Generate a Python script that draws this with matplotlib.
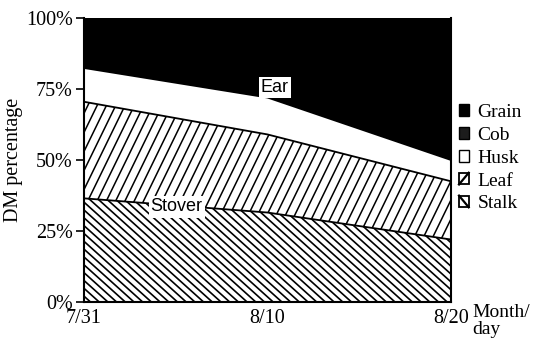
import numpy as np
import matplotlib
matplotlib.use("Agg")
import matplotlib.pyplot as plt
from matplotlib.patches import Patch, Rectangle
from matplotlib.lines import Line2D
from matplotlib.collections import LineCollection
from matplotlib.legend_handler import HandlerPatch

# days after 7/31
days = [0, 10, 20]
tick_labels = ["7/31", "8/10", "8/20"]

# dry matter share of each part (%), bottom to top
stalk = [36.5, 31.5, 22.0]
leaf = [34.0, 27.5, 20.5]
husk = [11.9, 13.0, 7.5]
cob = [8.0, 7.0, 6.0]
grain = [9.6, 21.0, 44.0]

parts = ["Stalk", "Leaf", "Husk", "Cob", "Grain"]

plt.rcParams['font.family'] = ['Liberation Serif', 'DejaVu Serif']

fig = plt.figure(figsize=(5.37, 3.42), dpi=100)
ax = fig.add_axes([84 / 537, 40 / 342, 367 / 537, 284 / 342])

W, H = 367, 284  # axes size in pixels, used for the hatch lines


def hatch_lines(poly, angle, step, lw=1.1):
    # angled hatch clipped to a filled region
    t = np.tan(np.radians(angle))
    run = H / t
    starts = np.arange(-abs(run) - step, W + abs(run) + step, step)
    segs = [[(x0 / W, 0), ((x0 + run) / W, 1)] for x0 in starts]
    lc = LineCollection(segs, colors="black", linewidths=lw, transform=ax.transAxes)
    path = poly.get_paths()[0]
    lc.set_clip_path(path, ax.transData)
    ax.add_collection(lc)


class DiagHandler(HandlerPatch):
    # legend square with a single diagonal stroke
    def __init__(self, rising):
        super().__init__()
        self.rising = rising

    def create_artists(self, legend, orig_handle, xdescent, ydescent, width, height,
                       fontsize, trans):
        x0, y0 = -xdescent, -ydescent
        r = Rectangle((x0, y0), width, height, facecolor="white", edgecolor="black",
                      lw=1.3, transform=trans)
        if self.rising:
            xs, ys = [x0, x0 + width], [y0, y0 + height]
        else:
            xs, ys = [x0, x0 + width], [y0 + height, y0]
        ln = Line2D(xs, ys, color="black", lw=1.6, transform=trans)
        return [r, ln]


x = np.array(days, dtype=float)
layers = [np.array(v, dtype=float) for v in (stalk, leaf, husk, cob, grain)]
colors = ["white", "white", "white", "black", "black"]
base = np.zeros_like(x)
polys = []
for vals, c in zip(layers, colors):
    top = base + vals
    p = ax.fill_between(x, base, top, facecolor=c, edgecolor="none", zorder=1)
    polys.append(p)
    ax.plot(x, top, color="black", lw=1.3, zorder=3)
    base = top

hatch_lines(polys[0], -42, 8.7, lw=1.2)
hatch_lines(polys[1], 64, 9.3, lw=1.1)

ax.set_xlim(0, 20)
ax.set_ylim(0, 100)
ax.set_xticks(days)
ax.set_xticklabels(tick_labels)
ax.set_yticks([0, 25, 50, 75, 100])
ax.set_yticklabels(["0%", "25%", "50%", "75%", "100%"])
ax.tick_params(axis="y", direction="out", length=6, width=1.2, labelsize=14.5, pad=2)
ax.tick_params(axis="x", length=0, labelsize=14.5, pad=5)
for s in ["left", "bottom", "right"]:
    ax.spines[s].set_linewidth(1.5)
    ax.spines[s].set_zorder(4)
ax.spines["top"].set_visible(False)
ax.set_ylabel("DM percentage", fontsize=14.5, labelpad=2)

ax.text(10.4, 75.5, "Ear", family="Liberation Sans", fontsize=13, ha="center", va="center",
        bbox=dict(facecolor="white", edgecolor="none", pad=1.5), zorder=5)
ax.text(5.05, 33.5, "Stover", family="Liberation Sans", fontsize=13, ha="center", va="center",
        bbox=dict(facecolor="white", edgecolor="none", pad=1.5), zorder=5)

fig.text(472 / 537, 1 - 321 / 342, "Month/\nday", fontsize=14, ha="left", va="center",
         linespacing=0.95)

leaf_h = Patch(facecolor="white", edgecolor="black", label="Leaf")
stalk_h = Patch(facecolor="white", edgecolor="black", label="Stalk")
handles = [
    Patch(facecolor="black", edgecolor="black", label="Grain"),
    Patch(facecolor="#1c1c1c", edgecolor="black", label="Cob"),
    Patch(facecolor="white", edgecolor="black", label="Husk"),
    leaf_h,
    stalk_h,
]
fig.legend(handles=handles, loc="upper left", bbox_to_anchor=(459 / 537, 1 - 104 / 342),
           frameon=False, fontsize=14, handlelength=0.5, handleheight=0.55,
           handletextpad=0.45, labelspacing=0.3, borderpad=0, borderaxespad=0,
           handler_map={leaf_h: DiagHandler(True), stalk_h: DiagHandler(False)})

fig.savefig("out.png", dpi=100)
